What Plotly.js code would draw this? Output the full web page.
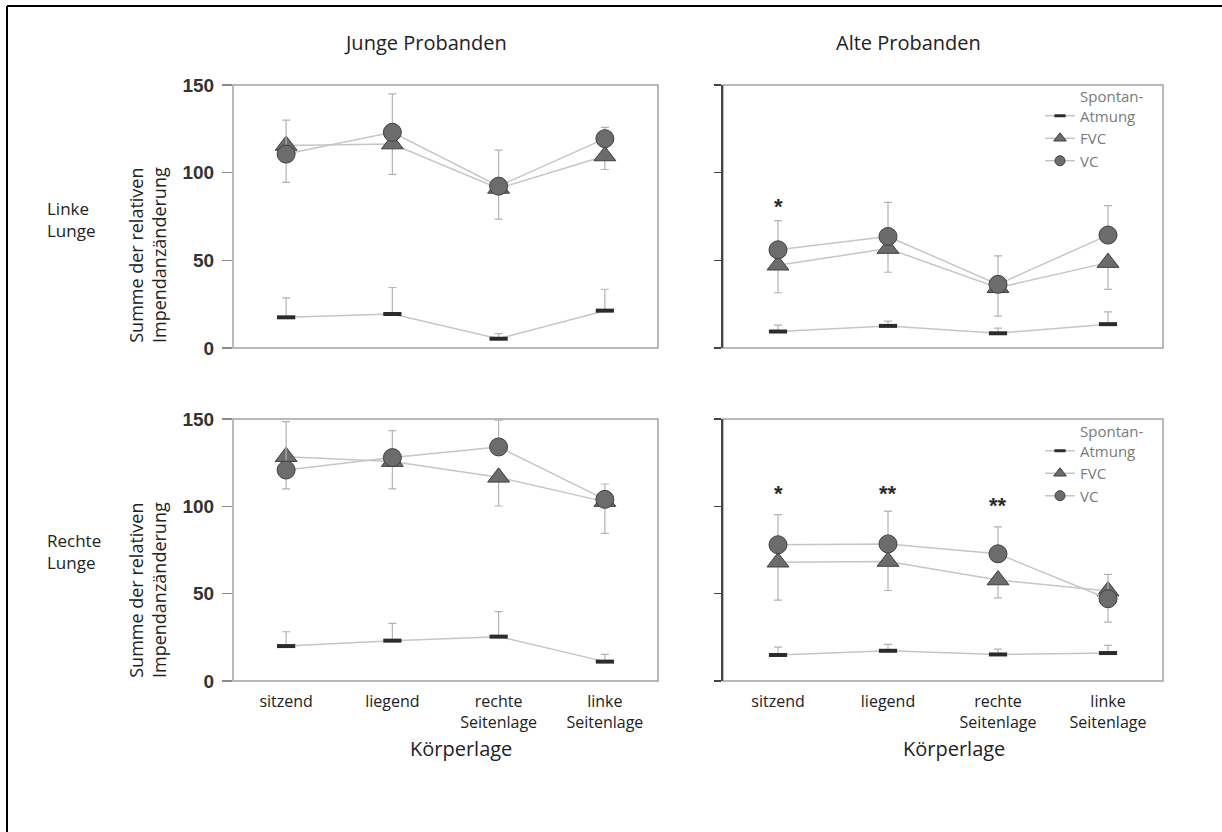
<!DOCTYPE html>
<html><head><meta charset="utf-8">
<script src="https://cdn.plot.ly/plotly-3.0.1.min.js"></script>
<style>html,body{margin:0;padding:0;background:#fff}#chart{width:1222px;height:832px}</style>
</head><body><div id="chart"></div>
<script>
// ---- data ----
const categories = ['sitzend', 'liegend', 'rechte<br>Seitenlage', 'linke<br>Seitenlage'];
const seriesNames = ['Spontan-<br>Atmung', 'FVC', 'VC'];

// Junge Probanden, linke Lunge
const spontYL = [17.5, 19.4, 5.3, 21.3];
const spontYLerr = [11.1, 15.1, 2.9, 12.2];
const fvcYL = [115.5, 116.3, 91.0, 109.5];
const fvcYLerr = [21.0, 17.3, 17.5, 7.7];
const vcYL = [110.6, 123.0, 92.3, 119.4];
const vcYLerr = [19.4, 21.9, 20.6, 6.4];
const sigYL = ['', '', '', ''];

// Alte Probanden, linke Lunge
const spontOL = [9.4, 12.6, 8.4, 13.6];
const spontOLerr = [3.6, 2.7, 2.9, 7.0];
const fvcOL = [47.2, 56.7, 34.4, 48.7];
const fvcOLerr = [15.7, 13.5, 16.2, 15.3];
const vcOL = [56.0, 63.6, 36.3, 64.4];
const vcOLerr = [16.6, 19.5, 16.2, 16.8];
const sigOL = ['*', '', '', ''];

// Junge Probanden, rechte Lunge
const spontYR = [20.0, 23.1, 25.4, 11.1];
const spontYRerr = [8.2, 9.9, 14.3, 4.2];
const fvcYR = [128.4, 125.6, 116.6, 102.7];
const fvcYRerr = [18.4, 15.6, 16.4, 18.2];
const vcYR = [120.8, 127.9, 134.0, 104.0];
const vcYRerr = [27.7, 15.4, 15.4, 8.8];
const sigYR = ['', '', '**', ''];

// Alte Probanden, rechte Lunge
const spontOR = [14.9, 17.3, 15.2, 16.0];
const spontORerr = [4.5, 3.7, 3.1, 4.4];
const fvcOR = [68.0, 68.4, 57.8, 51.5];
const fvcORerr = [21.7, 16.6, 10.2, 17.8];
const vcOR = [78.0, 78.5, 72.8, 47.1];
const vcORerr = [17.3, 18.7, 15.4, 13.9];
const sigOR = ['*', '**', '**', ''];

// ---- layout helpers ----
const W = 1222, H = 832;
const px = v => v / W;
const py = v => 1 - v / H;

const zeros = categories.map(() => 0);
const lineCol = '#c6c6c6';
const errCol = '#b3b3b3';
const markFill = '#6c6c6c';
const markEdge = '#3f3f3f';

function errBar(up, down) {
  return {type: 'data', symmetric: false, array: up, arrayminus: down,
          color: errCol, thickness: 1.2, width: 4};
}

function panelTraces(sp, spE, fvc, fvcE, vc, vcE, xa, ya) {
  return [
    {x: categories, y: sp, xaxis: xa, yaxis: ya, type: 'scatter', mode: 'lines+markers',
     showlegend: false, cliponaxis: false,
     line: {color: lineCol, width: 1.5},
     marker: {symbol: 'line-ew', size: 13, color: '#2b2b2b', line: {color: '#2b2b2b', width: 4}},
     error_y: errBar(spE, zeros)},
    {x: categories, y: fvc, xaxis: xa, yaxis: ya, type: 'scatter', mode: 'lines+markers',
     showlegend: false, cliponaxis: false,
     line: {color: lineCol, width: 1.5},
     marker: {symbol: 'triangle-up', size: 19, color: markFill, line: {color: markEdge, width: 1}},
     error_y: errBar(zeros, fvcE)},
    {x: categories, y: vc, xaxis: xa, yaxis: ya, type: 'scatter', mode: 'lines+markers',
     showlegend: false, cliponaxis: false,
     line: {color: lineCol, width: 1.5},
     marker: {symbol: 'circle', size: 18, color: markFill, line: {color: markEdge, width: 1}},
     error_y: errBar(vcE, zeros)}
  ];
}

function legendTraces(xa, ya, leg) {
  const syms = [
    {symbol: 'line-ew', size: 8, color: '#2b2b2b', line: {color: '#2b2b2b', width: 3}},
    {symbol: 'triangle-up', size: 11, color: markFill, line: {color: markEdge, width: 1}},
    {symbol: 'circle', size: 10, color: markFill, line: {color: markEdge, width: 1}}
  ];
  return seriesNames.map((n, i) => ({
    x: [null], y: [null], xaxis: xa, yaxis: ya, type: 'scatter', mode: 'lines+markers',
    name: n, legend: leg, showlegend: true,
    line: {color: lineCol, width: 1.5}, marker: syms[i]
  }));
}

const data = [].concat(
  panelTraces(spontYL, spontYLerr, fvcYL, fvcYLerr, vcYL, vcYLerr, 'x', 'y'),
  panelTraces(spontOL, spontOLerr, fvcOL, fvcOLerr, vcOL, vcOLerr, 'x2', 'y2'),
  panelTraces(spontYR, spontYRerr, fvcYR, fvcYRerr, vcYR, vcYRerr, 'x3', 'y3'),
  panelTraces(spontOR, spontORerr, fvcOR, fvcORerr, vcOR, vcORerr, 'x4', 'y4'),
  legendTraces('x2', 'y2', 'legend'),
  legendTraces('x4', 'y4', 'legend2')
);

const xdomL = [px(233), px(658)], xdomR = [px(723), px(1163)];
const ydomT = [py(348), py(85)], ydomB = [py(681), py(419)];

function xAxis(dom, anchor, labels) {
  return {domain: dom, anchor: anchor, type: 'category', categoryorder: 'array',
          categoryarray: categories, range: [-0.5, 3.5],
          showline: false, showgrid: false, zeroline: false, ticks: '',
          showticklabels: labels, ticklabelstandoff: 9,
          tickfont: {family: 'Open Sans', size: 16, color: '#222'}, fixedrange: true};
}
function yAxisLeft(dom, anchor) {
  return {domain: dom, anchor: anchor, range: [0, 150], tickvals: [0, 50, 100, 150],
          ticks: 'outside', ticklen: 10, tickwidth: 1.5, tickcolor: '#8a8a8a',
          showline: false, showgrid: false, zeroline: false, ticklabelstandoff: 4,
          tickfont: {family: 'Liberation Sans', size: 19, color: '#333', weight: 'bold'},
          fixedrange: true};
}
function yAxisRight(dom, anchor) {
  return {domain: dom, anchor: anchor, range: [0, 150], tickvals: [0, 50, 100, 150],
          ticks: 'outside', ticklen: 7, tickwidth: 1.5, tickcolor: '#444',
          showline: true, linecolor: '#444', linewidth: 2,
          showgrid: false, zeroline: false, showticklabels: false, fixedrange: true};
}

function frame(xr, yr) {
  return {type: 'rect', xref: xr + ' domain', yref: yr + ' domain', x0: 0, x1: 1, y0: 0, y1: 1,
          line: {color: '#a2a2a2', width: 1.5}, layer: 'below'};
}

const txtFont = {family: 'Open Sans', size: 18, color: '#222'};
const bigFont = {family: 'Open Sans', size: 20, color: '#222'};
function paperText(text, x, y, extra) {
  return Object.assign({text: text, xref: 'paper', yref: 'paper', x: px(x), y: py(y),
    xanchor: 'center', yanchor: 'middle', showarrow: false, font: txtFont}, extra || {});
}

const annotations = [
  paperText('Junge Probanden', 425, 42, {font: bigFont}),
  paperText('Alte Probanden', 908, 42, {font: bigFont}),
  paperText('Linke<br>Lunge', 45, 219, {xanchor: 'left', align: 'left', font: {family: 'Open Sans', size: 17, color: '#222'}}),
  paperText('Rechte<br>Lunge', 45, 551, {xanchor: 'left', align: 'left', font: {family: 'Open Sans', size: 17, color: '#222'}}),
  paperText('Summe der relativen<br>Impendanzänderung', 148, 255, {textangle: -90}),
  paperText('Summe der relativen<br>Impendanzänderung', 147, 590, {textangle: -90}),
  paperText('Körperlage', 461, 748, {font: bigFont}),
  paperText('Körperlage', 954, 748, {font: bigFont})
];

// significance markers (label positions in axis units)
const sigFont = {family: 'Liberation Sans', size: 22, color: '#2a2a2a', weight: 'bold'};
function sigAnnots(sig, xa, ya, yPos) {
  const out = [];
  sig.forEach((s, i) => {
    if (s) out.push({text: s, xref: xa, yref: ya, x: categories[i], y: yPos[i],
      showarrow: false, xanchor: 'center', yanchor: 'middle', font: sigFont});
  });
  return out;
}
annotations.push(...sigAnnots(sigOL, 'x2', 'y2', [80.6, 0, 0, 0]));
annotations.push(...sigAnnots(sigYR, 'x3', 'y3', [0, 0, 155.8, 0]));
annotations.push(...sigAnnots(sigOR, 'x4', 'y4', [107.1, 107.1, 100.2, 0]));

const legFont = {family: 'Open Sans', size: 15, color: '#7a7a7a'};
const layout = {
  width: W, height: H, autosize: false,
  margin: {l: 0, r: 0, t: 0, b: 0, pad: 0},
  paper_bgcolor: '#fff', plot_bgcolor: 'rgba(0,0,0,0)',
  font: {family: 'Open Sans', color: '#222'},
  xaxis: xAxis(xdomL, 'y', false),
  xaxis2: xAxis(xdomR, 'y2', false),
  xaxis3: xAxis(xdomL, 'y3', true),
  xaxis4: xAxis(xdomR, 'y4', true),
  yaxis: yAxisLeft(ydomT, 'x'),
  yaxis2: yAxisRight(ydomT, 'x2'),
  yaxis3: yAxisLeft(ydomB, 'x3'),
  yaxis4: yAxisRight(ydomB, 'x4'),
  legend: {x: px(1040), y: py(80), xanchor: 'left', yanchor: 'top', bgcolor: 'rgba(0,0,0,0)',
           font: legFont, valign: 'bottom', tracegroupgap: 0, borderwidth: 0},
  legend2: {x: px(1040), y: py(415), xanchor: 'left', yanchor: 'top', bgcolor: 'rgba(0,0,0,0)',
            font: legFont, valign: 'bottom', tracegroupgap: 0, borderwidth: 0},
  shapes: [
    frame('x', 'y'), frame('x2', 'y2'), frame('x3', 'y3'), frame('x4', 'y4'),
    {type: 'line', xref: 'paper', yref: 'paper', x0: px(7), x1: 1.01, y0: py(6), y1: py(6),
     line: {color: '#000', width: 2}},
    {type: 'line', xref: 'paper', yref: 'paper', x0: px(7), x1: px(7), y0: -0.01, y1: py(6),
     line: {color: '#000', width: 2}}
  ],
  annotations: annotations
};

Plotly.newPlot('chart', data, layout, {displayModeBar: false, staticPlot: true});
</script>
</body></html>
